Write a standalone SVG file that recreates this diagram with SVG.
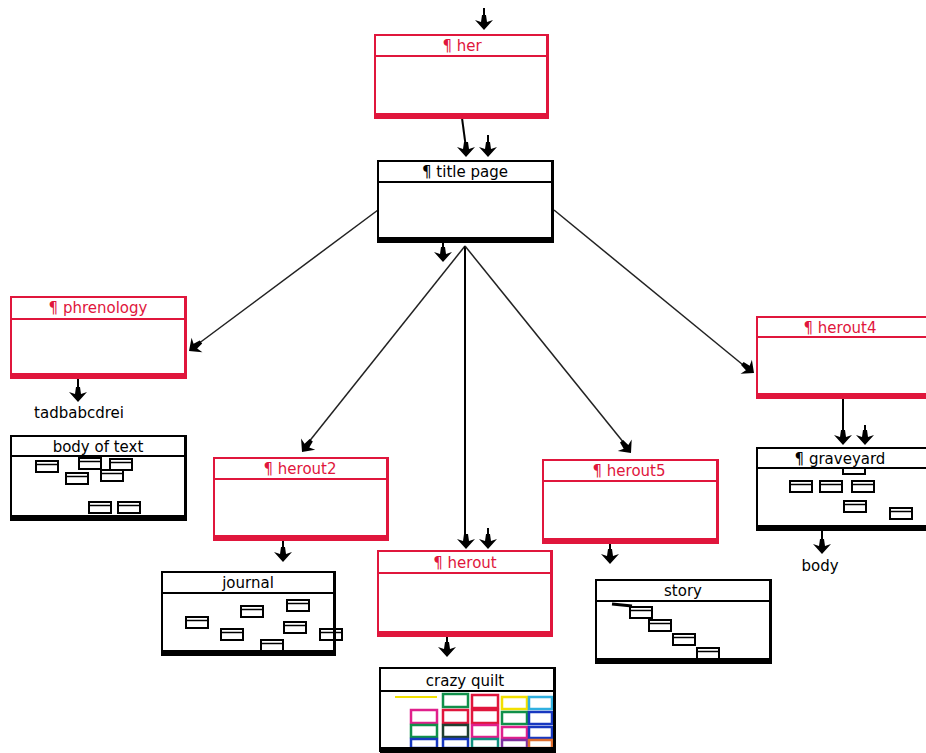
<svg xmlns="http://www.w3.org/2000/svg" width="926" height="753" viewBox="0 0 926 753">
<style>
.box{fill:#fff;stroke-width:2}
.red .box,.red .sep{stroke:#e0163c}
.red .bar{fill:#e0163c}
.red .ttl{fill:#e0163c}
.blk .box,.blk .sep{stroke:#000}
.blk .bar{fill:#000}
.blk .ttl{fill:#000}
.sep{stroke-width:2}
.ttl{font-family:"DejaVu Sans","Liberation Sans",sans-serif;font-size:15px;text-anchor:middle}
.lbl{font-family:"DejaVu Sans","Liberation Sans",sans-serif;font-size:15px;fill:#000;text-anchor:middle}
.mini{fill:#fff;stroke:#000;stroke-width:2}
.q{fill:none;stroke-width:2.5}
.diag{stroke:#222;stroke-width:1.5;fill:none}
.vert{stroke:#000;stroke-width:2;fill:none}
</style>
<defs>
<path id="ah" d="M0,0 L-9,-10 L-3,-8 L-2,-15 L2,-15 L3,-8 L9,-10 Z" fill="#000"/>
<g id="mr"><rect x="0" y="0" width="22" height="11" class="mini"/><line x1="1" y1="3.5" x2="21" y2="3.5" stroke="#000" stroke-width="1.5"/></g>
</defs>
<rect width="926" height="753" fill="#fff"/>

<g id="connectors">
  <line class="vert" x1="484" y1="8" x2="484" y2="22"/>
  <use href="#ah" transform="translate(484,30)"/>
  <line class="vert" x1="462" y1="118" x2="466" y2="148"/>
  <use href="#ah" transform="translate(466,157)"/>
  <line class="vert" x1="488" y1="135" x2="488" y2="148"/>
  <use href="#ah" transform="translate(488,157)"/>
  <line class="diag" x1="378" y1="210" x2="194" y2="347"/>
  <use href="#ah" transform="translate(189,351) rotate(53)"/>
  <line class="vert" x1="443" y1="243" x2="443" y2="254"/>
  <use href="#ah" transform="translate(443,262)"/>
  <line class="diag" x1="465" y1="246" x2="304" y2="448"/>
  <use href="#ah" transform="translate(302,452) rotate(38)"/>
  <line class="vert" x1="465" y1="246" x2="465" y2="541"/>
  <use href="#ah" transform="translate(466,549)"/>
  <line class="vert" x1="488" y1="528" x2="488" y2="541"/>
  <use href="#ah" transform="translate(488,549)"/>
  <line class="diag" x1="465" y1="246" x2="628" y2="448"/>
  <use href="#ah" transform="translate(631,453) rotate(-39)"/>
  <line class="diag" x1="554" y1="210" x2="748" y2="369"/>
  <use href="#ah" transform="translate(754,373) rotate(-51)"/>
  <line class="vert" x1="843" y1="398" x2="843" y2="436"/>
  <use href="#ah" transform="translate(843,445)"/>
  <line class="vert" x1="865" y1="425" x2="865" y2="436"/>
  <use href="#ah" transform="translate(865,445)"/>
  <line class="vert" x1="822" y1="530" x2="822" y2="546"/>
  <use href="#ah" transform="translate(822,554)"/>
  <line class="vert" x1="78" y1="378" x2="78" y2="394"/>
  <use href="#ah" transform="translate(78,402)"/>
  <line class="vert" x1="283" y1="540" x2="283" y2="554"/>
  <use href="#ah" transform="translate(283,562)"/>
  <line class="vert" x1="447" y1="636" x2="447" y2="649"/>
  <use href="#ah" transform="translate(447,657)"/>
  <line class="vert" x1="610" y1="543" x2="610" y2="556"/>
  <use href="#ah" transform="translate(610,564)"/>
</g>

<g id="her" class="red">
  <rect class="box" x="375" y="35" width="173" height="83"/>
  <line class="sep" x1="375" y1="56" x2="548" y2="56"/>
  <rect class="bar" x="375" y="113" width="174" height="5"/>
  <rect class="bar" x="546" y="35" width="3" height="83"/>
  <text class="ttl" x="462" y="51">¶ her</text>
</g>

<g id="title-page" class="blk">
  <rect class="box" x="378" y="161" width="175" height="81"/>
  <line class="sep" x1="378" y1="182" x2="553" y2="182"/>
  <rect class="bar" x="378" y="237" width="176" height="5"/>
  <rect class="bar" x="551" y="161" width="3" height="81"/>
  <text class="ttl" x="465" y="177">¶ title page</text>
</g>

<g id="phrenology" class="red">
  <rect class="box" x="11" y="297" width="175" height="81"/>
  <line class="sep" x1="11" y1="319" x2="186" y2="319"/>
  <rect class="bar" x="11" y="373" width="176" height="5"/>
  <rect class="bar" x="184" y="297" width="3" height="81"/>
  <text class="ttl" x="98" y="313">¶ phrenology</text>
</g>
<text class="lbl" x="79" y="418">tadbabcdrei</text>

<g id="body-of-text" class="blk">
  <rect class="box" x="11" y="436" width="175" height="84"/>
  <line class="sep" x1="11" y1="456" x2="186" y2="456"/>
  <use href="#mr" x="36" y="461"/>
  <use href="#mr" x="79" y="458"/>
  <use href="#mr" x="110" y="459"/>
  <use href="#mr" x="66" y="473"/>
  <use href="#mr" x="101" y="470"/>
  <use href="#mr" x="89" y="502"/>
  <use href="#mr" x="118" y="502"/>
  <rect class="bar" x="11" y="515" width="176" height="5"/>
  <rect class="bar" x="184" y="436" width="3" height="84"/>
  <text class="ttl" x="98" y="452">body of text</text>
</g>

<g id="herout2" class="red">
  <rect class="box" x="214" y="458" width="174" height="82"/>
  <line class="sep" x1="214" y1="479" x2="388" y2="479"/>
  <rect class="bar" x="214" y="535" width="175" height="5"/>
  <rect class="bar" x="386" y="458" width="3" height="82"/>
  <text class="ttl" x="300" y="474">¶ herout2</text>
</g>

<g id="journal" class="blk">
  <rect class="box" x="162" y="572" width="173" height="83"/>
  <line class="sep" x1="162" y1="593" x2="335" y2="593"/>
  <use href="#mr" x="186" y="617"/>
  <use href="#mr" x="241" y="606"/>
  <use href="#mr" x="287" y="600"/>
  <use href="#mr" x="221" y="629"/>
  <use href="#mr" x="284" y="622"/>
  <use href="#mr" x="261" y="640"/>
  <use href="#mr" x="320" y="629"/>
  <rect class="bar" x="162" y="650" width="174" height="5"/>
  <rect class="bar" x="333" y="572" width="3" height="83"/>
  <text class="ttl" x="248" y="588">journal</text>
</g>

<g id="herout" class="red">
  <rect class="box" x="378" y="551" width="174" height="85"/>
  <line class="sep" x1="378" y1="573" x2="552" y2="573"/>
  <rect class="bar" x="378" y="631" width="175" height="5"/>
  <rect class="bar" x="550" y="551" width="3" height="85"/>
  <text class="ttl" x="465" y="568">¶ herout</text>
</g>

<g id="crazy-quilt" class="blk">
  <rect class="box" x="380" y="668" width="175" height="83"/>
  <line class="sep" x1="380" y1="691" x2="555" y2="691"/>
  <line x1="395" y1="697" x2="437" y2="697" stroke="#f2e000" stroke-width="2"/>
  <rect class="q" x="411" y="710" width="26" height="13" stroke="#e0208c"/>
  <rect class="q" x="411" y="725" width="26" height="12" stroke="#10904a"/>
  <rect class="q" x="411" y="739" width="26" height="9" stroke="#1838c0"/>
  <rect class="q" x="443" y="694" width="25" height="13" stroke="#10904a"/>
  <rect class="q" x="443" y="710" width="25" height="13" stroke="#e0163c"/>
  <rect class="q" x="443" y="725" width="25" height="12" stroke="#204030"/>
  <rect class="q" x="443" y="739" width="25" height="9" stroke="#1838c0"/>
  <rect class="q" x="472" y="695" width="26" height="13" stroke="#e0163c"/>
  <rect class="q" x="472" y="710" width="26" height="13" stroke="#e0163c"/>
  <rect class="q" x="472" y="725" width="26" height="12" stroke="#e0208c"/>
  <rect class="q" x="472" y="739" width="26" height="9" stroke="#109080"/>
  <rect class="q" x="502" y="697" width="25" height="12" stroke="#f2e000"/>
  <rect class="q" x="502" y="712" width="25" height="12" stroke="#10904a"/>
  <rect class="q" x="502" y="727" width="25" height="11" stroke="#e0208c"/>
  <rect class="q" x="502" y="740" width="25" height="8" stroke="#8030a0"/>
  <rect class="q" x="529" y="697" width="23" height="12" stroke="#30b0e0"/>
  <rect class="q" x="529" y="712" width="23" height="12" stroke="#1838c0"/>
  <rect class="q" x="529" y="727" width="23" height="11" stroke="#1838c0"/>
  <rect class="q" x="529" y="740" width="23" height="8" stroke="#e07030"/>
  <rect class="bar" x="380" y="747" width="176" height="6"/>
  <rect class="bar" x="553" y="668" width="3" height="85"/>
  <text class="ttl" x="465" y="686">crazy quilt</text>
</g>

<g id="herout5" class="red">
  <rect class="box" x="543" y="460" width="175" height="83"/>
  <line class="sep" x1="543" y1="481" x2="718" y2="481"/>
  <rect class="bar" x="543" y="538" width="176" height="5"/>
  <rect class="bar" x="716" y="460" width="3" height="83"/>
  <text class="ttl" x="629" y="476">¶ herout5</text>
</g>

<g id="story" class="blk">
  <rect class="box" x="596" y="580" width="175" height="83"/>
  <line class="sep" x1="596" y1="601" x2="771" y2="601"/>
  <line x1="612" y1="604" x2="632" y2="606" stroke="#000" stroke-width="3"/>
  <use href="#mr" x="630" y="607"/>
  <use href="#mr" x="649" y="620"/>
  <use href="#mr" x="673" y="634"/>
  <use href="#mr" x="697" y="648"/>
  <rect class="bar" x="596" y="658" width="176" height="5"/>
  <rect class="bar" x="769" y="580" width="3" height="83"/>
  <text class="ttl" x="683" y="596">story</text>
</g>

<g id="herout4" class="red">
  <rect class="box" x="757" y="317" width="172" height="81"/>
  <line class="sep" x1="757" y1="337" x2="929" y2="337"/>
  <rect class="bar" x="757" y="393" width="172" height="5"/>
  <text class="ttl" x="840" y="333">¶ herout4</text>
</g>

<g id="graveyard" class="blk">
  <rect class="box" x="757" y="448" width="172" height="82"/>
  <rect class="mini" x="843" y="468" width="22" height="6"/>
  <line class="sep" x1="757" y1="468" x2="929" y2="468"/>
  <use href="#mr" x="790" y="481"/>
  <use href="#mr" x="820" y="481"/>
  <use href="#mr" x="852" y="481"/>
  <use href="#mr" x="844" y="501"/>
  <use href="#mr" x="890" y="508"/>
  <rect class="bar" x="757" y="525" width="172" height="5"/>
  <text class="ttl" x="840" y="464">¶ graveyard</text>
</g>
<text class="lbl" x="820" y="571">body</text>
</svg>
